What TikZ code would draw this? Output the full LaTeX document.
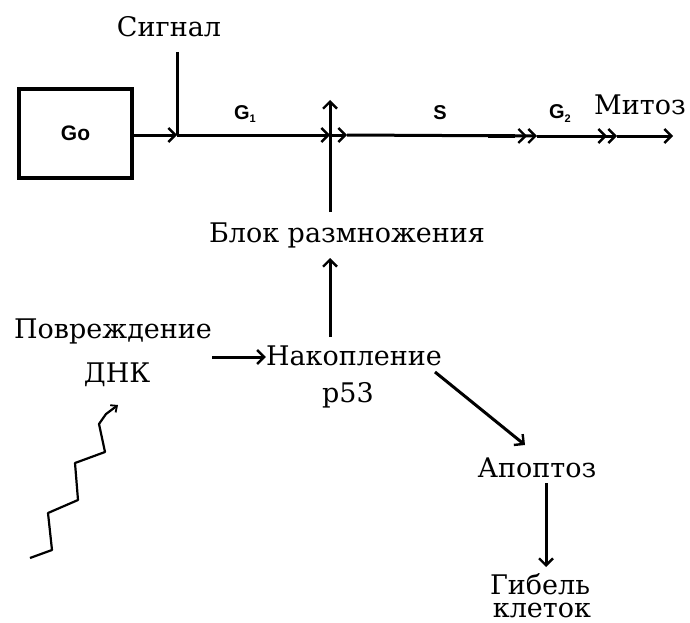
\documentclass[tikz,border=0pt]{standalone}
\usepackage{fontspec}
\newfontfamily\tnr{DejaVu Serif}
\newfontfamily\arl{Liberation Sans}
\usetikzlibrary{arrows.meta}
\begin{document}
\begin{tikzpicture}[x=1pt,y=-1pt,
  lbl/.style={inner sep=0pt, font=\tnr\fontsize{27}{32}\selectfont, anchor=base},
  phase/.style={inner sep=0pt, font=\arl\bfseries\fontsize{20}{24}\selectfont, anchor=base},
  ln/.style={line width=3pt},
  thin ln/.style={line width=2.2pt},
  barb/.style={-{Straight Barb[length=7pt,width=14pt,line width=2.4pt]}},
  dbarb/.style={-{Straight Barb[length=7pt,width=14pt,line width=2.4pt]Straight Barb[length=7pt,width=14pt,line width=2.4pt]}},
  smallbarb/.style={-{Straight Barb[length=5pt,width=9pt,line width=1.8pt]}},
  gobox/.style={draw, line width=4.5pt, minimum width=113pt, minimum height=89pt, inner sep=0pt,
    font=\arl\bfseries\fontsize{21}{24}\selectfont}]
\useasboundingbox (0,0) rectangle (690,623);

% box and labels
\node[gobox] (g0) at (75.5,133.5) {Go};
\node[lbl] (sig) at (169,37) {Сигнал};
\node[lbl] (mit) at (640,115) {Митоз};
\node[phase] (g1) at (245,120) {G\raisebox{-3pt}{\fontsize{11}{12}\selectfont 1}};
\node[phase] (sph) at (440,120) {S};
\node[phase] (g2) at (560,119) {G\raisebox{-4pt}{\fontsize{11}{12}\selectfont 2}};
\node[lbl] (blok) at (347,242) {Блок размножения};
\node[lbl] (dmg) at (113,338) {Повреждение};
\node[lbl] (dnk) at (117,382) {ДНК};
\node[lbl] (nak) at (354,365) {Накопление};
\node[lbl] (p53) at (348,402) {р53};
\node[lbl] (apo) at (537,477) {Апоптоз};
\node[lbl] (gib) at (540,594) {Гибель};
\node[lbl] (klt) at (542,617) {клеток};

% main line coordinates
\coordinate (j1) at (177,135);
\coordinate (j2) at (330,135);
\coordinate (j3) at (347,135);
\coordinate (j4) at (537,136);
\coordinate (j5) at (617,136);
\coordinate (j6) at (673,136);
\coordinate (s0) at (177,52);

\draw[ln,barb] (g0.east |- j1) -- (j1);
\draw[ln,barb] (j1) -- (j2);
\draw[ln,barb] (j2) -- (j3);
\draw[ln,dbarb] (j3) -- (j4);
\draw[line width=4.5pt] (488,136) -- (515,136);
\draw[ln,dbarb] (j4) -- (j5);
\draw[ln,barb] (j5) -- (j6);

% signal
\draw[ln] (s0) -- (j1);

% vertical arrows
\coordinate (b0) at (330,212);
\coordinate (b1) at (330,100);
\draw[ln,barb] (b0) -- (b1);
\coordinate (n0) at (330,337);
\coordinate (n1) at (330,258);
\draw[ln,barb] (n0) -- (n1);

% damage -> accumulation
\coordinate (d0) at (212,357);
\draw[ln,barb] (d0) -- (nak.west |- d0);

% accumulation -> apoptosis
\coordinate (a0) at (435,372);
\coordinate (a1) at (525,445);
\draw[ln,barb] (a0) -- (a1);

% apoptosis -> death
\coordinate (c0) at (546,483);
\coordinate (c1) at (546,567);
\draw[ln,barb] (c0) -- (c1);

% zigzag radiation arrow
\draw[thin ln,smallbarb,line join=round]
  (30,558) -- (52,550) -- (48,513) -- (78,500) -- (75,463) -- (105,452)
  -- (99,424) -- (106,414) -- (118,405);
\end{tikzpicture}
\end{document}
